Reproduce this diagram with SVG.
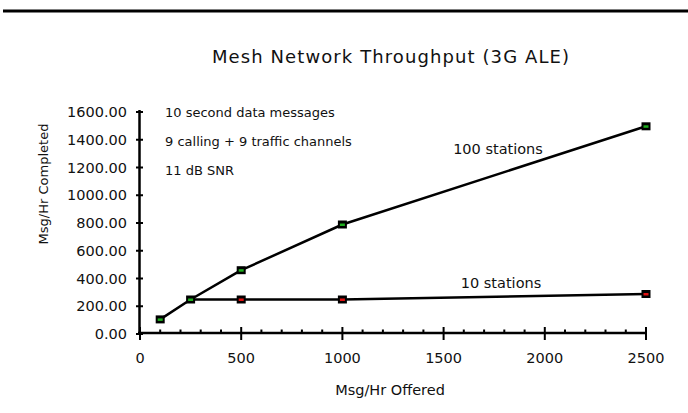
<svg xmlns="http://www.w3.org/2000/svg" width="688" height="413" viewBox="0 0 688 413">
  <style>
    .ax { stroke: #000; stroke-width: 2.5; fill: none; }
    .tk { stroke: #000; stroke-width: 2; fill: none; }
    .ln { stroke: #000; stroke-width: 2.5; fill: none; stroke-linejoin: round; }
    .lbl { font-family: "DejaVu Sans", Verdana, sans-serif; font-size: 14.5px; fill: #111; }
    .note { font-family: "DejaVu Sans", Verdana, sans-serif; font-size: 13px; fill: #111; }
    .ytl { text-anchor: end; }
    .xtl { text-anchor: middle; }
    .mk { fill: #000; }
    .g { fill: #1fae1f; }
    .r { fill: #e01010; }
  </style>
  <defs>
    <g id="mkG"><rect class="mk" x="-4.5" y="-4" width="9" height="8"/><rect class="g" x="-2.5" y="-1" width="5" height="2.5"/></g>
    <g id="mkR"><rect class="mk" x="-4.5" y="-4" width="9" height="8"/><rect class="r" x="-2.5" y="-1" width="5" height="2.5"/></g>
  </defs>

  <rect width="688" height="413" fill="#fff"/>
  <!-- header rule -->
  <line x1="3" y1="11" x2="688" y2="11" stroke="#000" stroke-width="3"/>

  <!-- title -->
  <text id="title" class="lbl" x="212" y="63" style="font-size:18px" textLength="357" lengthAdjust="spacing">Mesh Network Throughput (3G ALE)</text>

  <!-- axes -->
  <g id="axes">
    <line class="ax" x1="139.5" y1="110" x2="139.5" y2="335"/>
    <line class="ax" x1="138" y1="333" x2="647" y2="333"/>
    <!-- y ticks -->
    <path class="tk" d="M136 112H143M136 139.75H143M136 167.5H143M136 195.25H143M136 223H143M136 250.75H143M136 278.5H143M136 306.25H143M136 334H143"/>
    <!-- x major ticks -->
    <path class="tk" d="M140 327V340M241.2 327V340M342.4 327V340M443.6 327V340M544.8 327V340M646 327V340"/>
    <!-- x minor ticks -->
    <path class="tk" stroke-width="1.6" d="M160.2 329.5V333M180.5 329.5V333M200.7 329.5V333M221 329.5V333M261.4 329.5V333M281.7 329.5V333M301.9 329.5V333M322.2 329.5V333M362.6 329.5V333M382.9 329.5V333M403.1 329.5V333M423.4 329.5V333M463.8 329.5V333M484.1 329.5V333M504.3 329.5V333M524.6 329.5V333M565 329.5V333M585.3 329.5V333M605.5 329.5V333M625.8 329.5V333"/>
  </g>

  <!-- y tick labels -->
  <g id="ylabels" class="lbl ytl">
    <text x="127" y="117">1600.00</text>
    <text x="127" y="144.75">1400.00</text>
    <text x="127" y="172.5">1200.00</text>
    <text x="127" y="200.25">1000.00</text>
    <text x="127" y="228">800.00</text>
    <text x="127" y="255.75">600.00</text>
    <text x="127" y="283.5">400.00</text>
    <text x="127" y="311.25">200.00</text>
    <text x="127" y="339">0.00</text>
  </g>

  <!-- x tick labels -->
  <g id="xlabels" class="lbl xtl">
    <text x="140" y="362.5">0</text>
    <text x="241.2" y="362.5">500</text>
    <text x="342.4" y="362.5">1000</text>
    <text x="443.6" y="362.5">1500</text>
    <text x="544.8" y="362.5">2000</text>
    <text x="646" y="362.5">2500</text>
  </g>

  <!-- axis titles -->
  <text id="xtitle" class="lbl xtl" x="390" y="395">Msg/Hr Offered</text>
  <text id="ytitle" class="note xtl" transform="translate(48 184) rotate(-90)">Msg/Hr Completed</text>

  <!-- notes -->
  <g id="notes" class="note">
    <text x="165" y="117">10 second data messages</text>
    <text x="165" y="146">9 calling + 9 traffic channels</text>
    <text x="165" y="175">11 dB SNR</text>
  </g>

  <!-- series: 10 stations -->
  <g id="series-10">
    <polyline class="ln" points="190.6,299.5 241.2,299.5 342.4,299.5 646,294"/>
    <use href="#mkR" x="241.2" y="299.5"/>
    <use href="#mkR" x="342.4" y="299.5"/>
    <use href="#mkR" x="646" y="294"/>
    <text class="lbl xtl" x="501" y="288">10 stations</text>
  </g>

  <!-- series: 100 stations -->
  <g id="series-100">
    <polyline class="ln" points="160.2,319.4 190.6,299.5 241.2,270.2 342.4,224.5 646,126.3"/>
    <use href="#mkG" x="160.2" y="319.4"/>
    <use href="#mkG" x="190.6" y="299.5"/>
    <use href="#mkG" x="241.2" y="270.2"/>
    <use href="#mkG" x="342.4" y="224.5"/>
    <use href="#mkG" x="646" y="126.3"/>
    <text class="lbl xtl" x="498" y="154">100 stations</text>
  </g>
</svg>
